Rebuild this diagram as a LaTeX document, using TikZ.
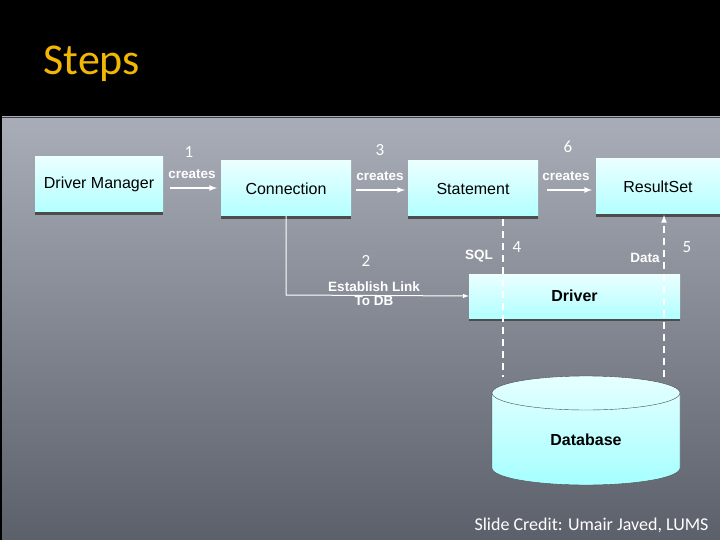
\documentclass[tikz,border=0pt]{standalone}
\usepackage{fontspec}
\setmainfont{Liberation Sans}
\newfontfamily\carl{Carlito}
\usetikzlibrary{shapes.geometric,shadings}
\definecolor{title}{HTML}{F2B705}
\definecolor{bgtop}{HTML}{A9ADB8}
\definecolor{bgbot}{HTML}{5C606A}
\begin{document}
\begin{tikzpicture}[x=1pt,y=-1pt,
 box/.style={draw=none,top color=cyan!8,bottom color=cyan!30,minimum height=#1,inner sep=0pt,font=\fontsize{16}{18}\selectfont},
 box/.default=55pt,
 lbl/.style={white,font=\bfseries\fontsize{13.5}{14}\selectfont,align=center,inner sep=0pt},
 num/.style={white,font=\carl\fontsize{17}{17}\selectfont,inner sep=0pt},
 arr/.style={white,line width=1.6pt,-latex}]
\useasboundingbox (0,0) rectangle (720,540);
\fill[black] (0,0) rectangle (720,540);
\shade[top color=bgtop,bottom color=bgbot] (2,117) rectangle (720,540);
\draw[gray!50!black] (2,117) -- (720,117);
\node[anchor=west,text=title,font=\carl\fontsize{44}{44}\selectfont] (t) at (40,64) {Steps};
% boxes
\fill[black!70] (35,160) rectangle (163,215);
\node[box,minimum width=128pt] (dm) at (99,184.5) {Driver Manager};
\fill[black!70] (221,164) rectangle (351,219);
\node[box,minimum width=130pt] (cn) at (286,188.5) {Connection};
\fill[black!70] (408,164) rectangle (538,219);
\node[box,minimum width=130pt] (st) at (473,188.5) {Statement};
\fill[black!70] (596,162) rectangle (720,217);
\node[box,minimum width=124pt] (rs) at (658,186.5) {ResultSet};
\fill[black!70] (469,276) rectangle (680,321);
\node[box=44pt,minimum width=211pt,font=\bfseries\fontsize{16}{18}\selectfont] (dr) at (574.5,296) {Driver};
% database
\shade[top color=cyan!10,bottom color=cyan!35,draw=gray!60!black]
  (492,393) -- (492,468) arc[start angle=180,end angle=0,x radius=94,y radius=17] -- (680,393)
  arc[start angle=0,end angle=-180,x radius=94,y radius=17] -- cycle;
\draw[gray!60!black] (492,393) arc[start angle=180,end angle=0,x radius=94,y radius=17];
\node[font=\bfseries\fontsize{16}{18}\selectfont] (db) at (586,440) {Database};
% arrows
\coordinate (a1) at (170,188); \coordinate (b1) at (217,188);
\draw[arr] (a1) -- (b1);
\node[lbl] (c1) at (192,174) {creates};
\node[num] (n1) at (189,152) {1};
\coordinate (a3) at (356,190); \coordinate (b3) at (405,190);
\draw[arr] (a3) -- (b3);
\node[lbl] (c3) at (380,176) {creates};
\node[num] (n3) at (380,150) {3};
\coordinate (a6) at (547,190); \coordinate (b6) at (592,190);
\draw[arr] (a6) -- (b6);
\node[lbl] (c6) at (566,176) {creates};
\node[num] (n6) at (568,147) {6};
% link
\coordinate (l0) at (286,216); \coordinate (l1) at (286,295);
\draw[white,line width=1pt,-latex] (l0) -- (l1) -- (dr.west);
\node[num] (n2) at (366,261) {2};
\node[lbl] (el) at (374,294) {Establish Link\\To DB};
% dashed
\coordinate (s0) at (503,219); \coordinate (s1) at (503,377);
\draw[white,line width=1.6pt,dash pattern=on 7pt off 5pt] (s0) -- (s1);
\node[lbl] (sql) at (479,256) {SQL};
\node[num] (n4) at (517,247) {4};
\coordinate (d0) at (664,377); \coordinate (d1) at (664,215);
\draw[white,line width=1.6pt,dash pattern=on 7pt off 5pt,-latex] (d0) -- (d1);
\node[lbl] (data) at (645,258) {Data};
\node[num] (n5) at (687,247) {5};
\node[white,font=\carl\fontsize{18}{18}\selectfont,anchor=east] (cr) at (712,525) {Slide Credit: Umair Javed, LUMS};
\end{tikzpicture}
\end{document}
